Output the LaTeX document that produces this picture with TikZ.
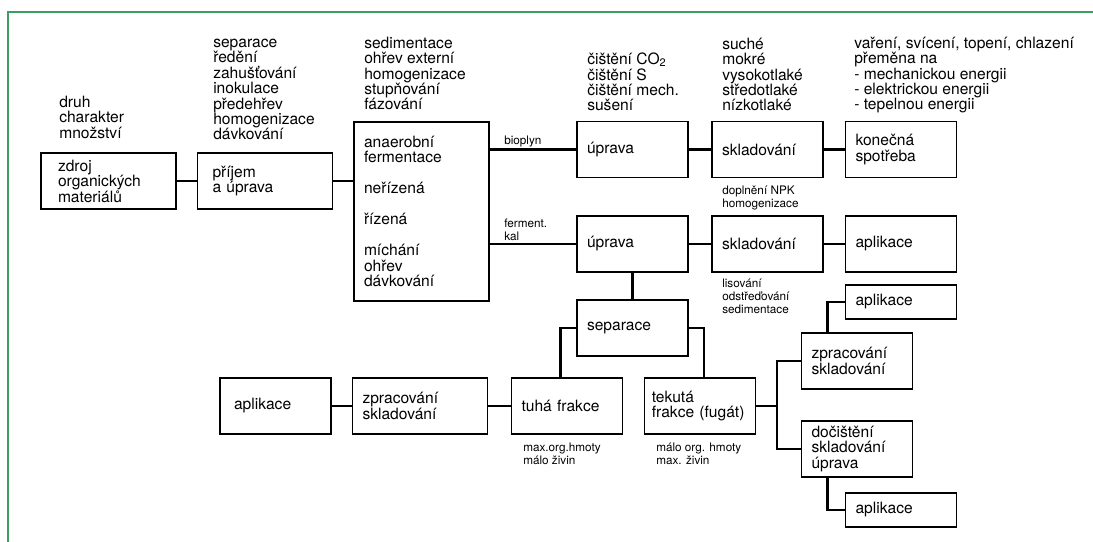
\documentclass[tikz,border=0pt]{standalone}
\usepackage{fontspec}
\setmainfont{TeX Gyre Heros}

\definecolor{framegreen}{RGB}{60,158,96}
\newcommand{\bigtxt}{\fontsize{11.7pt}{11.6pt}\selectfont}
\newcommand{\smalltxt}{\fontsize{8.8pt}{9.4pt}\selectfont}

\tikzset{
    box/.style={draw, line width=0.9pt, inner xsep=7.5pt, inner ysep=0pt,
        text width=68.25pt, minimum height=42pt, align=left, font=\bigtxt},
    widebox/.style={box, text width=86.25pt},
    lowbox/.style={box, minimum height=25.5pt},
    conn/.style={line width=2.2pt},
    note/.style={anchor=base west, inner sep=0pt, align=left, font=\bigtxt},
    smallnote/.style={note, font=\smalltxt},
}

\begin{document}
\begin{tikzpicture}[x=0.75pt, y=-0.75pt]
                \useasboundingbox (0,0) rectangle (1093,542);
                \draw[framegreen, line width=1.5pt] (1093,12) -- (8,12) -- (8,542);
                % bloky
                \node[widebox, inner xsep=12.75pt, text width=75.75pt] (zdroj) at (108.5,181) {zdroj\\organických\\materiálů};
                \node[widebox, inner xsep=11.25pt, text width=78.75pt] (prijem) at (265,181) {příjem\\a úprava};
                \node[widebox, minimum height=134.25pt] (ferm) at (421.5,211.5)
                    {anaerobní\\fermentace\\[11.6pt]neřízená\\[11.6pt]řízená\\[11.6pt]míchání\\ohřev\\dávkování};
                \node[box] (upr1) at (632.5,149.5) {úprava};
                \node[box] (skl1) at (767.5,149.5) {skladování};
                \node[box] (kon) at (901,149.5) {konečná\\spotřeba};
                \node[box] (upr2) at (632.5,244) {úprava};
                \node[box] (skl2) at (767.5,244) {skladování};
                \node[box] (apl2) at (901,244) {aplikace};
                \node[box] (sep) at (632.5,328) {separace};
                \node[box] (tuha) at (567,406) {tuhá frakce};
                \node[box, inner xsep=5.5pt, text width=72.25pt] (tek) at (700,406) {tekutá\\frakce (fugát)};
                \node[widebox] (zprL) at (420,406) {zpracování\\skladování};
                \node[box, inner xsep=10.5pt, text width=62.25pt] (aplL) at (275.5,406) {aplikace};
                \node[box] (zprR) at (857,361) {zpracování\\skladování};
                \node[box] (docR) at (857,449) {dočištění\\skladování\\úprava};
                \node[lowbox] (aplT) at (901,302) {aplikace};
                \node[lowbox] (aplB) at (901,510) {aplikace};
                % popisky (base = posledni radek)
                \node[note] (zdrojinfo) at (59,138) {druh\\charakter\\množství};
                \node[note] (prijeminfo) at (213,140) {separace\\ředění\\zahušťování\\inokulace\\předehřev\\homogenizace\\dávkování};
                \node[note] (ferminfo) at (364,110) {sedimentace\\ohřev externí\\homogenizace\\stupňování\\fázování};
                \node[note] (upr1info) at (587,111) {čištění CO\textsubscript{2}\\čištění S\\čištění mech.\\sušení};
                \node[note] (skl1info) at (722,111) {suché\\mokré\\vysokotlaké\\středotlaké\\nízkotlaké};
                \node[note] (koninfo) at (854,110) {vaření, svícení, topení, chlazení\\přeměna na\\- mechanickou energii\\- elektrickou energii\\- tepelnou energii};
                \node[smallnote] (bioplyn) at (504,145) {bioplyn};
                \node[smallnote] (kal) at (504,240) {ferment.\\kal};
                \node[smallnote] (skl2info) at (722,207) {doplnění NPK\\homogenizace};
                \node[smallnote] (sepinfo) at (722,313) {lisování\\odstřeďování\\sedimentace};
                \node[smallnote] (tuhainfo) at (523,464) {max.org.hmoty\\málo živin};
                \node[smallnote] (tekinfo) at (656,464) {málo org. hmoty\\max. živin};
                % spoje
                \draw[conn] (zdroj) -- (prijem);
                \draw[conn] (prijem.east) -- (prijem.east -| ferm.west);
                \draw[conn] (ferm.east |- upr1.west) -- (upr1.west);
                \draw[conn] (ferm.east |- upr2.west) -- (upr2.west);
                \draw[conn] (upr1) -- (skl1);
                \draw[conn] (skl1) -- (kon);
                \draw[conn] (upr2) -- (skl2);
                \draw[conn] (skl2) -- (apl2);
                \draw[conn] (upr2) -- (sep);
                \draw[conn] (sep.west) -| ([xshift=-5pt]tuha.north);
                \draw[conn] (sep.east) -| ([xshift=3pt]tek.north);
                \draw[conn] (tuha) -- (zprL);
                \draw[conn] (zprL) -- (aplL);
                \coordinate (fork) at (777,406);
                \draw[conn] (tek.east) -- (fork);
                \draw[conn] (zprR.west) -| (fork) |- (docR.west);
                \draw[conn] ([xshift=20.25pt]zprR.north west) |- (aplT.west);
                \draw[conn] ([xshift=20.25pt]docR.south west) |- (aplB.west);
\end{tikzpicture}
\end{document}
